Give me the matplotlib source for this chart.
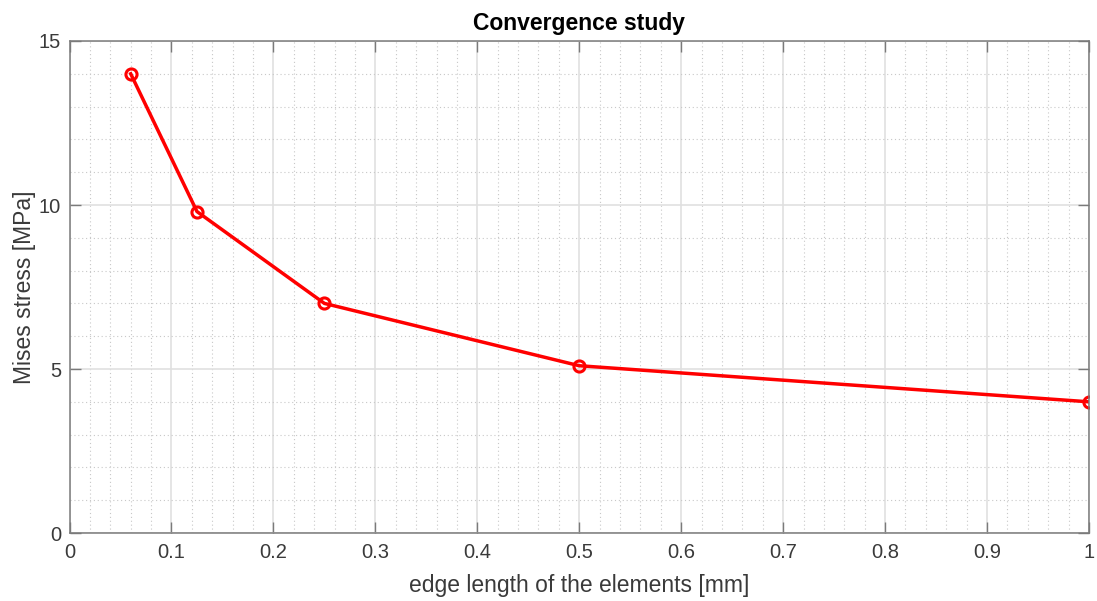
import numpy as np
import matplotlib.pyplot as plt
from matplotlib.ticker import MultipleLocator

# convergence study data
edge = [0.06, 0.125, 0.25, 0.5, 1.0]
stress = [14.0, 9.8, 7.0, 5.1, 4.0]
xlabels = ['0', '0.1', '0.2', '0.3', '0.4', '0.5', '0.6', '0.7', '0.8', '0.9', '1']

plt.rcParams['font.family'] = ['Liberation Sans', 'DejaVu Sans']

fig = plt.figure(figsize=(10.97, 6.01), dpi=100)
ax = fig.add_axes([0.0634, 0.1131, 0.9293, 0.8187])

ax.plot(edge, stress, color='red', lw=2.5, marker='o', ms=8, mfc='none', mew=2.2)

ax.set_xlim(0, 1)
ax.set_ylim(0, 15)
ax.xaxis.set_minor_locator(MultipleLocator(0.02))
ax.yaxis.set_major_locator(MultipleLocator(5))
ax.yaxis.set_minor_locator(MultipleLocator(1))
ax.set_xticks(np.arange(0, 1.01, 0.1))
ax.set_xticklabels(xlabels)

ax.grid(which='major', color='#e0e0e0', lw=1.2)
ax.grid(which='minor', color='#c8c8c8', lw=0.8, ls=(0, (1, 2.5)))
ax.set_axisbelow(True)

sc = '#7a7a7a'
tc = '#3a3a3a'
for s in ax.spines.values():
    s.set_color(sc)
    s.set_linewidth(1.1)
ax.tick_params(which='both', direction='in', top=True, right=True, color=sc,
               labelcolor=tc, labelsize=14.5)
ax.tick_params(which='major', length=8, width=1.0)
ax.tick_params(which='minor', length=0)
ax.tick_params(axis='x', pad=7)
ax.tick_params(axis='y', pad=6)

ax.set_xlabel('edge length of the elements [mm]', fontsize=16.5, color=tc, labelpad=9)
ax.set_ylabel('Mises stress [MPa]', fontsize=16.5, color=tc, labelpad=2)
ax.set_title('Convergence study', fontsize=16.5, fontweight='bold', color='black', pad=8)

fig.savefig('out.png', dpi=100)
